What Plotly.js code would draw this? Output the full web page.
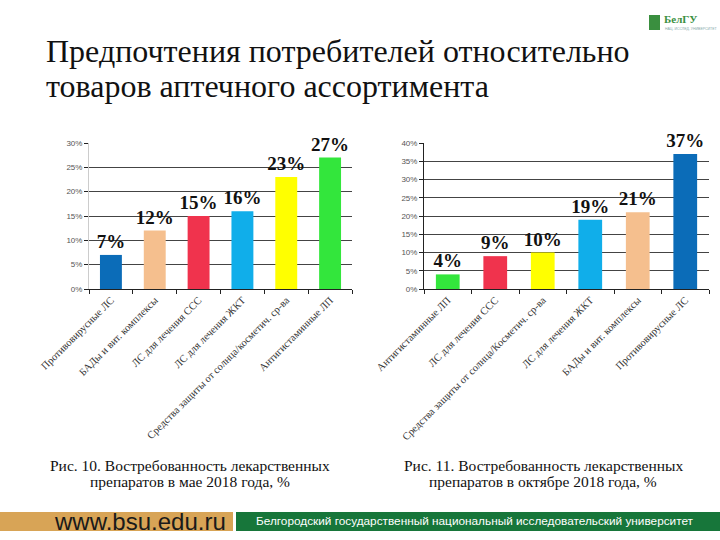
<!DOCTYPE html>
<html><head><meta charset="utf-8">
<script src="https://cdn.plot.ly/plotly-3.0.1.min.js"></script>
<style>html,body{margin:0;padding:0;background:#fff}#c{width:720px;height:540px}</style>
</head><body><div id="c"></div>
<script>
const catsMay = ["Противовирусные ЛС","БАДы и вит. комплексы","ЛС для лечения ССС","ЛС для лечения ЖКТ","Средства защиты от солнца/косметич. ср-ва","Антигистаминные ЛП"];
const valsMay = [7,12,15,16,23,27];
const colorsMay = ["#0b6cb8","#f5bf8e","#f0334d","#10aeea","#ffff00","#33e63c"];
const catsOct = ["Антигистаминные ЛП","ЛС для лечения ССС","Средства защиты от солнца/Косметич. ср-ва","ЛС для лечения ЖКТ","БАДы и вит. комплексы","Противовирусные ЛС"];
const valsOct = [4,9,10,19,21,37];
const colorsOct = ["#33e63c","#f0334d","#ffff00","#10aeea","#f5bf8e","#0b6cb8"];
const ticksMay = [0,5,10,15,20,25,30];
const ticksOct = [0,5,10,15,20,25,30,35,40];

const serif = "Liberation Serif, Times New Roman, serif";
const sans = "Liberation Sans, Arial, sans-serif";
const W=720,H=540;
const px = x=>x/W, py = y=>1-y/H;

const labelFont = {family:serif,size:19,color:"#111",weight:"bold"};
function bar(c,v,col,xa,ya){
  return {type:"bar",x:c,y:v,xaxis:xa,yaxis:ya,marker:{color:col,line:{width:0}},width:0.5,
    text:v.map(d=>d+"%"),textposition:"outside",textfont:labelFont,cliponaxis:false,constraintext:"none",hoverinfo:"skip"};
}
const data=[bar(catsMay,valsMay,colorsMay,"x","y"),bar(catsOct,valsOct,colorsOct,"x2","y2")];

function xax(dom,anchor){
  return {domain:dom,anchor:anchor,type:"category",tickangle:-45,showline:true,linecolor:"#222",linewidth:1,
    ticks:"outside",tickson:"boundaries",ticklen:4,tickcolor:"#222",
    tickfont:{family:serif,size:10.5,color:"#333"},showgrid:false,fixedrange:true};
}
function yax(dom,anchor,range,tv,lc){
  return {domain:dom,anchor:anchor,range:range,tickvals:tv,ticktext:tv.map(t=>t+"%"),showline:true,linecolor:lc,linewidth:1,
    ticks:"outside",ticklen:4,tickcolor:"#222",showgrid:true,gridcolor:"#444",gridwidth:1,zeroline:false,
    tickfont:{family:sans,size:8,color:"#555"},fixedrange:true};
}
function ann(x,y,t,font,xa){
  return {xref:"paper",yref:"paper",x:px(x),y:py(y),xanchor:xa||"center",yanchor:"middle",showarrow:false,text:t,font:font};
}
const yd=[py(289),py(143)];
const titleFont={family:serif,size:32,color:"#111"};
const capFont={family:serif,size:15.5,color:"#111"};
const layout={
  width:W,height:H,margin:{l:0,r:0,t:0,b:0},paper_bgcolor:"#fff",plot_bgcolor:"#fff",showlegend:false,bargap:0.5,
  uniformtext:{mode:false},
  xaxis:xax([px(89),px(352)],"y"),
  yaxis:yax(yd,"x",[0,30],ticksMay,"#ccc"),
  xaxis2:xax([px(424),px(709)],"y2"),
  yaxis2:yax(yd,"x2",[0,40],ticksOct,"#222"),
  shapes:[
    {type:"rect",xref:"paper",yref:"paper",x0:0,x1:px(233),y0:py(531),y1:py(512),fillcolor:"#d8a456",line:{width:0}},
    {type:"rect",xref:"paper",yref:"paper",x0:px(236),x1:1,y0:py(531),y1:py(512),fillcolor:"#17763a",line:{width:0}},
    {type:"rect",xref:"paper",yref:"paper",x0:px(649),x1:px(660),y0:py(30),y1:py(15),fillcolor:"#3a8f3f",line:{width:0}}
  ],
  annotations:[
    ann(44,51,"Предпочтения потребителей относительно",titleFont,"left"),
    ann(44,86,"товаров аптечного ассортимента",titleFont,"left"),
    ann(190,465,"Рис. 10. Востребованность лекарственных",capFont),
    ann(190,481,"препаратов в мае 2018 года, %",capFont),
    ann(543,465,"Рис. 11. Востребованность лекарственных",capFont),
    ann(543,481,"препаратов в октябре 2018 года, %",capFont),
    ann(52,521,"www.bsu.edu.ru",{family:sans,size:24,color:"#1a1a1a"},"left"),
    ann(475,521,"Белгородский государственный национальный исследовательский университет",{family:sans,size:11.8,color:"#fff"}),
    ann(662,19,"<b>БелГУ</b>",{family:serif,size:11,color:"#3a8f3f"},"left"),
    ann(663,29,"НАЦ. ИССЛЕД. УНИВЕРСИТЕТ",{family:sans,size:3.5,color:"#8aa"},"left")
  ]
};
Plotly.newPlot("c",data,layout,{staticPlot:true,displayModeBar:false});
</script></body></html>
